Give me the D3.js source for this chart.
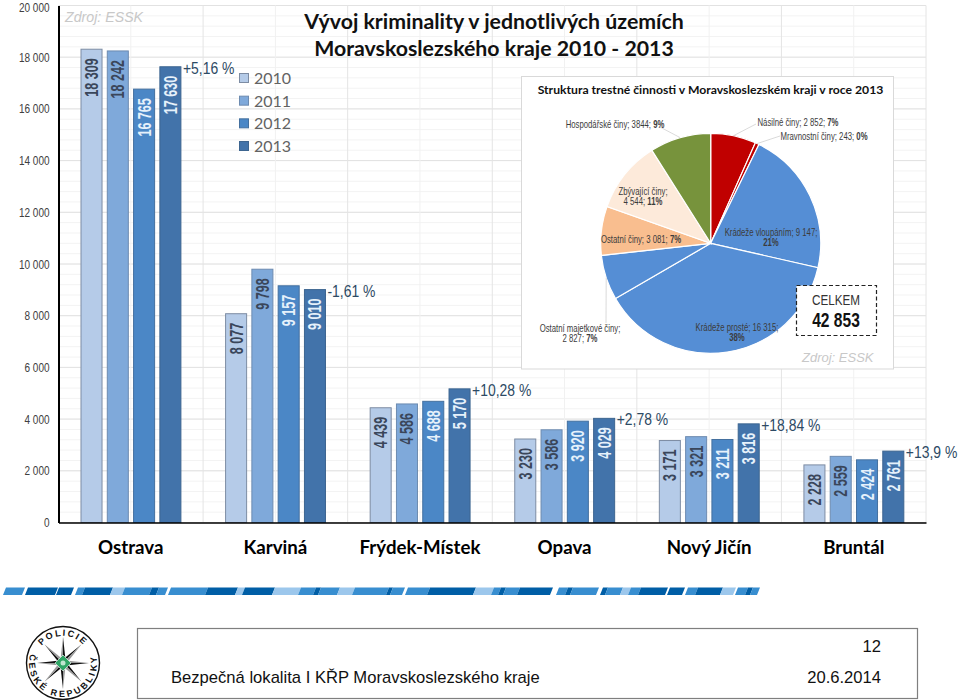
<!DOCTYPE html>
<html lang="cs">
<head>
    <meta charset="UTF-8">
    <title>Vývoj kriminality</title>
    <style>
        html, body { margin: 0; padding: 0; background: #fff; }
        svg { display: block; }
        .sans { font-family: "Liberation Sans", Arial, sans-serif; }
        .cal { font-family: Lato, "Open Sans", sans-serif; }
    </style>
</head>
<body>
    <svg id="svg" width="960" height="700"></svg>
    <script src="https://d3js.org/d3.v7.min.js"></script>
    <script>
        const districts = ['Ostrava', 'Karviná', 'Frýdek-Místek', 'Opava', 'Nový Jičín', 'Bruntál']
        const years = ['2010', '2011', '2012', '2013']
        const values2010 = [18309, 8077, 4439, 3230, 3171, 2228]
        const values2011 = [18242, 9798, 4586, 3586, 3321, 2559]
        const values2012 = [16765, 9157, 4688, 3920, 3211, 2424]
        const values2013 = [17630, 9010, 5170, 4029, 3816, 2761]
        const changes = ['+5,16 %', '-1,61 %', '+10,28 %', '+2,78 %', '+18,84 %', '+13,9 %']
        const yTicks = [0, 2000, 4000, 6000, 8000, 10000, 12000, 14000, 16000, 18000, 20000]

        const pieNames = ['Násilné činy', 'Mravnostní činy', 'Krádeže vloupáním', 'Krádeže prosté',
            'Ostatní majetkové činy', 'Ostatní činy', 'Zbývající činy', 'Hospodářské činy']
        const pieValues = [2852, 243, 9147, 16315, 2827, 3081, 4544, 3844]
        const pieValueText = ['2 852', '243', '9 147', '16 315', '2 827', '3 081', '4 544', '3844']
        const piePercents = ['7%', '0%', '21%', '38%', '7%', '7%', '11%', '9%']
        const pieColors = ['#c00000', '#c00000', '#558ed5', '#558ed5', '#558ed5', '#f9be8f', '#fdeada', '#77933c']

        const series = [values2010, values2011, values2012, values2013]
        const barColors = ['#b5cbe8', '#7fa9da', '#4b87c6', '#4273aa']
        const barStrokes = ['#7d8ca3', '#6d8bb0', '#44709f', '#3d6590']
        const labelColors = ['#3a465a', '#3a465a', '#e6f1fb', '#e6f1fb']

        const svg = d3.select('#svg')
        const spaced = d => String(d).replace(/\B(?=(\d{3})+$)/g, ' ')
        // no condensed face is installed, so narrow text is squeezed sideways
        const narrow = (sel, px, py, sx) => sel.attr('class', 'sans')
            .attr('transform', `translate(${px}, ${py}) scale(${sx}, 1)`)

        const y = d3.scaleLinear().domain([0, 20000]).range([522.5, 5.5])
        const x = d3.scaleBand().domain(districts).range([58.5, 926])
        const xInner = d3.scaleBand().domain(years).range([22.5, 122.4]).paddingInner(0.2)

        // grid
        const grid = svg.append('g')
        grid.selectAll('line.minor').data(d3.range(0, 20001, 400)).enter().append('line')
            .attr('x1', 58.5).attr('x2', 926).attr('y1', d => y(d)).attr('y2', d => y(d))
            .attr('stroke', '#f3f3f3').attr('stroke-width', 1)
        grid.selectAll('line.major').data(yTicks).enter().append('line')
            .attr('x1', 58.5).attr('x2', 926).attr('y1', d => y(d)).attr('y2', d => y(d))
            .attr('stroke', '#e2e2e2').attr('stroke-width', 1)
        grid.selectAll('line.vmid').data(districts).enter().append('line')
            .attr('x1', d => x(d) + x.bandwidth() / 2).attr('x2', d => x(d) + x.bandwidth() / 2)
            .attr('y1', 5.5).attr('y2', 522.5).attr('stroke', '#f1f1f1')
        grid.selectAll('line.vband').data(districts).enter().append('line')
            .attr('x1', d => x(d) + x.bandwidth()).attr('x2', d => x(d) + x.bandwidth())
            .attr('y1', 5.5).attr('y2', 522.5).attr('stroke', '#e4e4e4')

        // bars
        series.forEach((values, s) => {
            const g = svg.append('g')
            g.selectAll('rect').data(values).enter().append('rect')
                .attr('x', (d, i) => x(districts[i]) + xInner(years[s]))
                .attr('y', d => y(d))
                .attr('width', xInner.bandwidth())
                .attr('height', d => y(0) - y(d))
                .attr('fill', barColors[s])
                .attr('stroke', barStrokes[s])
                .attr('stroke-width', 1)
            g.selectAll('text').data(values).enter().append('text')
                .attr('class', 'sans')
                .attr('transform', (d, i) => `translate(${x(districts[i]) + xInner(years[s]) + xInner.bandwidth() / 2 + 6.5}, ${y(d) + 9}) rotate(-90) scale(0.7, 1)`)
                .attr('text-anchor', 'end')
                .attr('font-size', 18)
                .attr('font-weight', 'bold')
                .attr('fill', labelColors[s])
                .text(d => spaced(d))
        })

        // change labels beside the 2013 bars
        svg.append('g').selectAll('text').data(changes).enter().append('text')
            .attr('class', 'sans')
            .attr('transform', (d, i) => `translate(${x(districts[i]) + xInner('2013') + xInner.bandwidth() + 2}, ${y(values2013[i]) + 7}) scale(0.82, 1)`)
            .attr('font-size', 17)
            .attr('fill', '#2d4a64')
            .text(d => d)

        // axes
        const leftAxis = d3.axisLeft(y).tickValues(yTicks).tickSize(0).tickPadding(9).tickFormat(spaced)
        const gLeft = svg.append('g').attr('transform', 'translate(58.5, 0)').call(leftAxis)
        gLeft.select('.domain').attr('stroke', '#000').attr('stroke-width', 2)
        gLeft.selectAll('text').attr('class', 'sans').attr('font-size', 12.5).attr('fill', '#404040')
            .attr('x', 0)
            .attr('transform', d => `translate(-9, ${d === 20000 ? 1.5 : 0}) scale(0.8, 1)`)

        const bottomAxis = d3.axisBottom(x).tickSize(0).tickPadding(18)
        const gBottom = svg.append('g').attr('transform', 'translate(0, 522.5)').call(bottomAxis)
        gBottom.select('.domain').attr('stroke', '#000').attr('stroke-width', 1.5)
        gBottom.selectAll('text').attr('class', 'cal').attr('font-size', 18.7).attr('font-weight', 'bold').attr('fill', '#000')

        // legend
        const legendY = d3.scalePoint().domain(years).range([78, 146])
        const legend = svg.append('g').selectAll('g').data(years).enter().append('g')
            .attr('transform', d => `translate(239, ${legendY(d)})`)
        legend.append('rect').attr('x', 0.5).attr('y', -4.5).attr('width', 9).attr('height', 9)
            .attr('fill', (d, i) => barColors[i]).attr('stroke', (d, i) => barStrokes[i])
        legend.append('text').attr('class', 'cal').attr('x', 15).attr('y', 6)
            .attr('font-size', 16).attr('fill', '#636363').text(d => d)

        // titles
        const title = svg.append('g').attr('class', 'cal').attr('text-anchor', 'middle')
            .attr('font-weight', 'bold').attr('font-size', 21.3).attr('fill', '#111')
        title.append('text').attr('x', 494).attr('y', 29).text('Vývoj kriminality v jednotlivých územích')
        title.append('text').attr('x', 494).attr('y', 56).text('Moravskoslezského kraje 2010 - 2013')

        svg.append('text').attr('class', 'sans').attr('x', 65).attr('y', 22)
            .attr('font-size', 14.2).attr('font-style', 'italic').attr('fill', '#c8c8c8').text('Zdroj: ESSK')

        // pie panel
        svg.append('rect').attr('x', 521.5).attr('y', 76.5).attr('width', 372).attr('height', 292.5)
            .attr('fill', '#fff').attr('stroke', '#d9d9d9')
        svg.append('text').attr('class', 'cal').attr('x', 710.5).attr('y', 94).attr('text-anchor', 'middle')
            .attr('font-size', 12.2).attr('font-weight', 'bold').attr('fill', '#111')
            .text('Struktura trestné činnosti v Moravskoslezském kraji v roce 2013')

        const pieCenter = [710.7, 243.3]
        const pieRadius = 110
        const pieG = svg.append('g').attr('transform', `translate(${pieCenter})`)
        const arcs = d3.pie().sort(null)(pieValues)
        const arc = d3.arc().innerRadius(0).outerRadius(pieRadius)
        pieG.selectAll('path').data(arcs).enter().append('path')
            .attr('d', arc).attr('fill', (d, i) => pieColors[i])
            .attr('stroke', '#fff').attr('stroke-width', 1.2)

        // leader lines, from the slice edge out to the label
        const leaderEnds = { 0: [756, 124], 1: [780, 136], 4: [606, 323], 7: [660, 127] }
        const edge = d3.arc().innerRadius(pieRadius).outerRadius(pieRadius)
        Object.keys(leaderEnds).forEach(i => {
            const c = edge.centroid(arcs[i])
            svg.append('line')
                .attr('x1', pieCenter[0] + c[0]).attr('y1', pieCenter[1] + c[1])
                .attr('x2', leaderEnds[i][0]).attr('y2', leaderEnds[i][1])
                .attr('stroke', '#d0d0d0').attr('stroke-width', 0.8)
        })

        // pie labels, with line breaks where the reference breaks them
        const pieLabelSpots = [
            { x: 798, y: 126, lines: 1 }, { x: 824, y: 139.5, lines: 1 },
            { x: 771, y: 236, lines: 2 }, { x: 737, y: 331, lines: 2 },
            { x: 580, y: 332, lines: 3 }, { x: 641, y: 243, lines: 1 },
            { x: 643, y: 195, lines: 3 }, { x: 615, y: 128, lines: 1 }
        ]
        const pieText = svg.append('g').attr('font-size', 10.5)
            .attr('text-anchor', 'middle').attr('fill', '#3c3c3c')
        pieLabelSpots.forEach((s, i) => {
            const t = pieText.append('text').call(narrow, s.x, s.y, 0.74)
            if (s.lines === 1) {
                t.append('tspan').text(pieNames[i] + '; ' + pieValueText[i] + '; ')
                t.append('tspan').attr('font-weight', 'bold').text(piePercents[i])
            } else if (s.lines === 2) {
                t.append('tspan').text(pieNames[i] + '; ' + pieValueText[i] + ';')
                t.append('tspan').attr('x', 0).attr('dy', 10.5).attr('font-weight', 'bold').text(piePercents[i])
            } else {
                t.append('tspan').text(pieNames[i] + ';')
                t.append('tspan').attr('x', 0).attr('dy', 10.5).text(pieValueText[i] + '; ')
                t.append('tspan').attr('font-weight', 'bold').text(piePercents[i])
            }
        })

        // total box
        svg.append('rect').attr('x', 796.5).attr('y', 285.5).attr('width', 80).attr('height', 50)
            .attr('fill', '#fff').attr('stroke', '#222').attr('stroke-width', 1.2).attr('stroke-dasharray', '4 2.5')
        svg.append('text').call(narrow, 836, 304.5, 0.78).attr('text-anchor', 'middle')
            .attr('font-size', 15).attr('fill', '#333').text('CELKEM')
        svg.append('text').call(narrow, 836, 327, 0.76).attr('text-anchor', 'middle')
            .attr('font-size', 20.5).attr('font-weight', 'bold').attr('fill', '#111').text(spaced(d3.sum(pieValues)))
        svg.append('text').attr('class', 'sans').attr('x', 802).attr('y', 362)
            .attr('font-size', 13).attr('font-style', 'italic').attr('fill', '#c8c8c8').text('Zdroj: ESSK')

        // decorative stripe under the chart
        const mid = '#388ed0', dark = '#005ea6', light = '#9cc7ec'
        const stripeParts = [
            [3, 22, mid], [25, 55, dark], [56, 71, dark], [75, 82, mid], [82, 110, dark], [110, 122, light],
            [122, 149, mid], [149, 156, dark], [156, 165, mid], [168, 205, mid], [205, 235, dark], [235, 242, light],
            [242, 272, dark], [272, 298, light], [298, 313, mid], [313, 318, dark], [318, 337, mid], [337, 352, light],
            [352, 386, mid], [386, 390, dark], [390, 402, mid], [405, 427, mid], [427, 473, dark], [473, 491, light],
            [491, 498, mid], [498, 503, dark], [503, 517, mid], [517, 550, dark], [556, 565, mid], [565, 570, dark],
            [570, 596, mid], [600, 605, dark], [605, 620, mid], [620, 628, light], [628, 638, mid], [638, 665, dark],
            [667, 682, dark], [685, 695, mid], [695, 720, dark], [720, 733, light], [735, 745, mid], [745, 750, dark],
            [750, 757, mid]
        ]
        svg.append('g').selectAll('path').data(stripeParts).enter().append('path')
            .attr('d', d => `M${d[0]},595 L${d[0] + 3},587.5 L${d[1] + 3},587.5 L${d[1]},595 Z`)
            .attr('fill', d => d[2])

        // footer box
        svg.append('rect').attr('x', 137.5).attr('y', 628.5).attr('width', 780).attr('height', 70)
            .attr('fill', 'none').attr('stroke', '#7f7f7f').attr('stroke-width', 1.2)
        const footer = svg.append('g').attr('class', 'sans').attr('font-size', 16.6).attr('fill', '#111')
        footer.append('text').attr('x', 171).attr('y', 683).text('Bezpečná lokalita I KŘP Moravskoslezského kraje')
        footer.append('text').attr('x', 881).attr('y', 683).attr('text-anchor', 'end').text('20.6.2014')
        footer.append('text').attr('x', 881).attr('y', 652).attr('text-anchor', 'end').text('12')

        // police badge
        const logo = svg.append('g').attr('transform', 'translate(63, 663)')
        logo.append('circle').attr('r', 36.5).attr('fill', '#fff').attr('stroke', '#111').attr('stroke-width', 1.4)
        d3.range(8).forEach(k => {
            const a = k * Math.PI / 4
            const r = 26
            const tip = [r * Math.sin(a), -r * Math.cos(a)]
            const side = s => [6 * Math.sin(a + s * Math.PI / 8), -6 * Math.cos(a + s * Math.PI / 8)]
            logo.append('path').attr('d', `M0,0 L${side(-1)} L${tip} Z`).attr('fill', k % 2 ? '#111' : '#999')
            logo.append('path').attr('d', `M0,0 L${side(1)} L${tip} Z`).attr('fill', k % 2 ? '#999' : '#111')
        })
        logo.append('path').attr('d', 'M0,-8 L8,0 L0,8 L-8,0 Z').attr('fill', '#2fa565').attr('stroke', '#fff').attr('stroke-width', 0.6)
        logo.append('circle').attr('r', 2.5).attr('fill', '#bfe6cf')
        svg.append('defs').html(`
            <path id="ringTop" d="M-26,-8 A27.2,27.2 0 0 1 26,-8"/>
            <path id="ringBottom" d="M-30,-16 A34,34 0 1 0 30,-16"/>`)
        const ringText = (id, str, spacing) => logo.append('text').attr('class', 'sans')
            .attr('font-size', 9).attr('font-weight', 'bold').attr('fill', '#111').attr('letter-spacing', spacing)
            .attr('text-anchor', 'middle')
            .append('textPath').attr('href', id).attr('startOffset', '50%').text(str)
        ringText('#ringTop', 'POLICIE', 1.8)
        ringText('#ringBottom', 'ČESKÉ REPUBLIKY', 2.6)
    </script>
</body>
</html>
